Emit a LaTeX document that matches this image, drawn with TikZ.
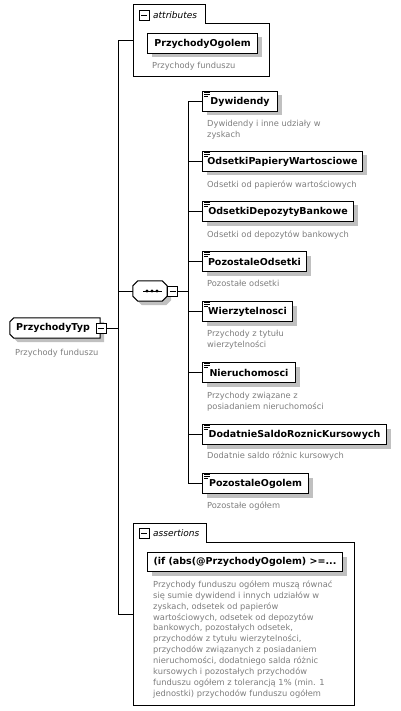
\documentclass[tikz,border=0pt]{standalone}
\usepackage{fontspec}
\setmainfont{DejaVu Sans}
\usetikzlibrary{shadows}
\definecolor{desc}{RGB}{125,125,125}
\definecolor{shad}{RGB}{192,192,192}
\tikzset{
  conn/.style={line width=1pt},
  shd/.style={drop shadow={shadow xshift=4pt,shadow yshift=-4pt,fill=shad,opacity=1}},
  elem/.style={draw,line width=1pt,fill=white,inner sep=0pt,anchor=north west,
    minimum height=20pt,font=\fontsize{9.5}{11}\selectfont\bfseries,shd},
  desctext/.style={anchor=north west,inner sep=0pt,align=left,text=desc,
    font=\fontsize{8.3}{11}\selectfont},
  minusbox/.style={draw,fill=white,minimum size=10pt,inner sep=0pt,line width=0.8pt,
    path picture={\draw[line width=0.8pt] ([xshift=2pt]path picture bounding box.west) -- ([xshift=-2pt]path picture bounding box.east);}},
  tabtext/.style={anchor=west,inner sep=0pt,font=\fontsize{9}{11}\selectfont\itshape},
  container/.style={draw,line width=1pt,fill=white},
  outline/.style={draw,line width=1pt,fill=white,shd},
}
\begin{document}
\begin{tikzpicture}[x=1pt,y=-1pt]
\useasboundingbox (0,0) rectangle (400,711);
% attributes container
\draw[container] (133,77) -- (133,5) -- (205,5) -- (205,24) -- (269,24) -- (269,77) -- cycle;
\node[minusbox] (attrm) at (144,15) {};
\node[tabtext] (attrt) at (153,15) {attributes};
\node[elem,minimum width=110pt] (pogattr) at (147,33) {PrzychodyOgolem};
\node[desctext] (pogattrd) at (152,61.5) {Przychody funduszu};
\coordinate (attrin) at (133,41);
% assertions container
\draw[container] (133,705) -- (133,523) -- (206,523) -- (206,542) -- (354,542) -- (354,705) -- cycle;
\node[minusbox] (assm) at (144,533) {};
\node[tabtext] (asst) at (153,533) {assertions};
\node[elem,minimum width=195pt,minimum height=19pt] (assb) at (147,552) {(if (abs(@PrzychodyOgolem) >=...};
\node[desctext,font=\fontsize{8.3}{10.9}\selectfont] (assd) at (153,580.5) {Przychody funduszu ogółem muszą równać\\się sumie dywidend i innych udziałów w\\zyskach, odsetek od papierów\\wartościowych, odsetek od depozytów\\bankowych, pozostałych odsetek,\\przychodów z tytułu wierzytelności,\\przychodów związanych z posiadaniem\\nieruchomości, dodatniego salda różnic\\kursowych i pozostałych przychodów\\funduszu ogółem z tolerancją 1\% (min. 1\\jednostki) przychodów funduszu ogółem};
\coordinate (assin) at (133,614);
% root type
\node[minimum width=90pt,minimum height=20pt,inner sep=0pt] (typbox) at (55,328) {};
\path[outline] ([xshift=4pt]typbox.north west) -- (typbox.north east) -- (typbox.south east)
  -- ([xshift=4pt]typbox.south west) -- ([yshift=4pt]typbox.south west) -- ([yshift=-4pt]typbox.north west) -- cycle;
\node[anchor=west,inner sep=0pt,font=\fontsize{9.5}{11}\selectfont\bfseries] (typ) at (16,328) {PrzychodyTyp};
\node[minusbox] (typm) at (101,328) {};
\node[desctext] (typd) at (15,348.5) {Przychody funduszu};
% trunk
\coordinate (tr) at (118,328);
\draw[conn] (typm.east) -- (tr);
\draw[conn] (tr |- attrin) -- (tr |- assin);
\draw[conn] (tr |- attrin) -- (attrin);
\draw[conn] (tr |- assin) -- (assin);
% sequence compositor
\node[minimum width=34pt,minimum height=20pt,inner sep=0pt] (seq) at (150,291) {};
\path[outline] ([xshift=5pt]seq.north west) -- ([xshift=-5pt]seq.north east) -- ([yshift=-5pt]seq.north east)
  -- ([yshift=5pt]seq.south east) -- ([xshift=-5pt]seq.south east) -- ([xshift=5pt]seq.south west)
  -- ([yshift=5pt]seq.south west) -- ([yshift=-5pt]seq.north west) -- cycle;
\draw[line width=1pt] ([xshift=-7pt]seq.center) -- ([xshift=12pt]seq.center);
\foreach \dx in {-3,2,7} \fill ([xshift=\dx pt]seq.center) circle (1.6pt);
\node[minusbox] (seqm) at (172.5,291) {};
\draw[conn] (tr |- seq.west) -- (seq.west);
\coordinate (sb) at (188,291);
\draw[conn] (seqm.east) -- (sb);
% elements
\node[elem,minimum width=75pt] (dyw) at (202,91) {Dywidendy};
\node[elem,minimum width=160pt] (opw) at (202,151) {OdsetkiPapieryWartosciowe};
\node[elem,minimum width=151pt] (odb) at (202,201) {OdsetkiDepozytyBankowe};
\node[elem,minimum width=104pt] (po) at (202,251) {PozostaleOdsetki};
\node[elem,minimum width=90pt] (wie) at (202,301) {Wierzytelnosci};
\node[elem,minimum width=93pt] (nie) at (202,362) {Nieruchomosci};
\node[elem,minimum width=184pt] (dsr) at (202,424) {DodatnieSaldoRoznicKursowych};
\node[elem,minimum width=106pt] (pog) at (202,473) {PozostaleOgolem};
\foreach \n in {dyw,opw,odb,po,wie,nie,dsr,pog}{
  \draw[conn] (sb |- \n.west) -- (\n.west);
  \draw[line width=0.7pt] ([shift={(2,1.8)}]\n.north west) -- ++(6,0)
    ([shift={(2,3.6)}]\n.north west) -- ++(6,0)
    ([shift={(2,5.4)}]\n.north west) -- ++(4,0);
}
\draw[conn] (sb |- dyw.west) -- (sb |- pog.west);
% descriptions
\node[desctext] (dywd) at (207,119.5) {Dywidendy i inne udziały w\\zyskach};
\node[desctext] (opwd) at (207,180.5) {Odsetki od papierów wartościowych};
\node[desctext] (odbd) at (207,230.5) {Odsetki od depozytów bankowych};
\node[desctext] (pod) at (207,279.5) {Pozostałe odsetki};
\node[desctext] (wied) at (207,329.5) {Przychody z tytułu\\wierzytelności};
\node[desctext] (nied) at (207,391.5) {Przychody związane z\\posiadaniem nieruchomości};
\node[desctext] (dsrd) at (207,451.5) {Dodatnie saldo różnic kursowych};
\node[desctext] (pogd) at (207,501.5) {Pozostałe ogółem};
\end{tikzpicture}
\end{document}
